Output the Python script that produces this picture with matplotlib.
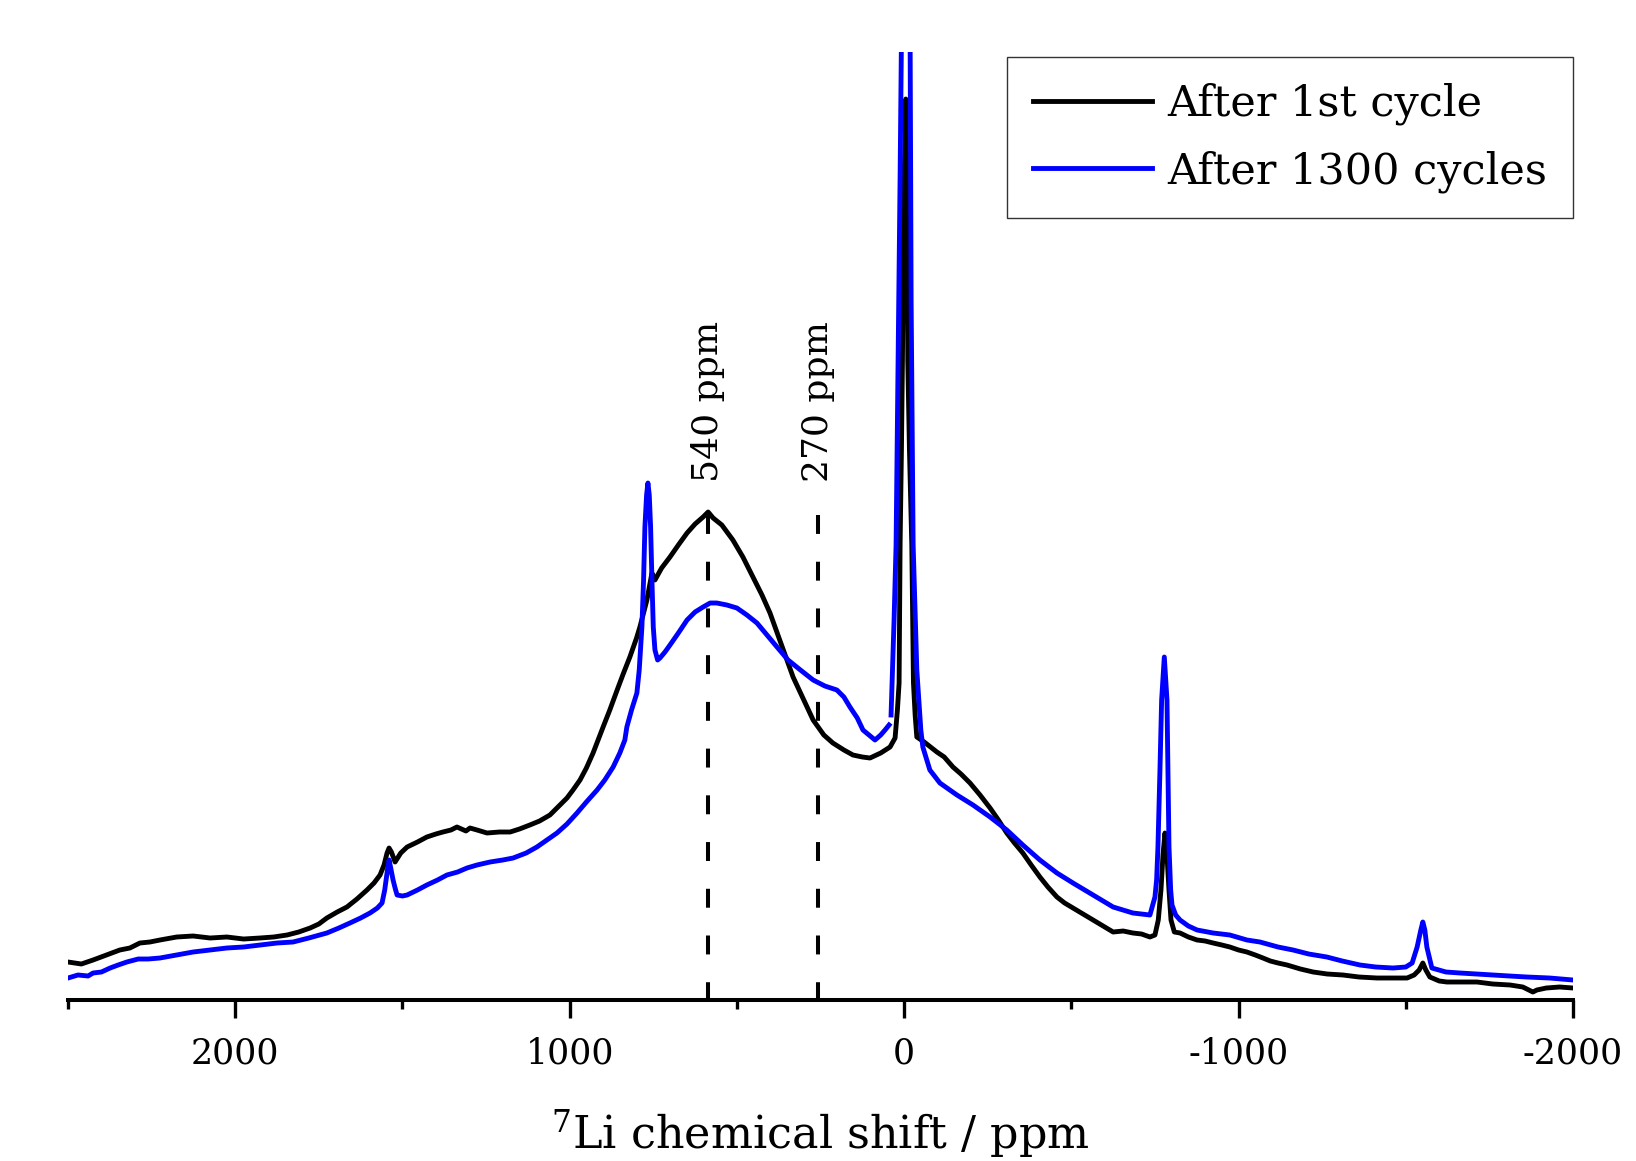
"""7Li MAS NMR spectra after 1st and 1300 cycles."""
import matplotlib
matplotlib.use("Agg")
import matplotlib.pyplot as plt
import numpy as np

# ppm / intensity (arbitrary units)
ppm_1st = [2500, 2460, 2425, 2385, 2345, 2315, 2285, 2255, 2225, 2175, 2126, 2075,
           2025, 1975, 1926, 1885, 1845, 1810, 1776, 1750, 1726, 1695, 1666, 1636,
           1606, 1585, 1567, 1555, 1546, 1540, 1533, 1522, 1505, 1486, 1455, 1427,
           1400, 1379, 1355, 1337, 1310, 1298, 1277, 1247, 1210, 1178, 1150, 1119,
           1090, 1059, 1035, 1008, 990, 969, 950, 930, 900, 880, 858, 840, 820,
           800, 790, 769, 754, 745, 725, 700, 675, 649, 625, 601, 586, 571, 545,
           512, 482, 452, 425, 401, 375, 350, 332, 300, 272, 240, 213, 180, 153,
           125, 102, 70, 42, 27, 20, 15, 12, 8, 5, 1, -5, -9, -11, -16, -23, -28,
           -33, -38, -60, -98, -120, -146, -170, -197, -227, -257, -282, -307,
           -330, -355, -380, -406, -430, -457, -480, -505, -535, -565, -595, -625,
           -655, -684, -710, -735, -750, -760, -768, -774, -780, -786, -792, -798,
           -808, -825, -850, -876, -900, -924, -950, -974, -1000, -1025, -1050,
           -1073, -1095, -1118, -1145, -1185, -1223, -1265, -1312, -1360, -1414,
           -1460, -1504, -1525, -1540, -1551, -1560, -1572, -1600, -1623, -1670,
           -1713, -1760, -1812, -1850, -1880, -1892, -1920, -1960, -2000]
int_1st = [38, 36, 40, 45, 50, 52, 57, 58, 60, 63, 64, 62,
           63, 61, 62, 63, 65, 68, 72, 76, 82, 88, 93, 101,
           110, 117, 125, 135, 147, 152, 148, 138, 147, 153, 158, 163,
           166, 168, 170, 173, 169, 172, 170, 167, 168, 168, 171, 175,
           179, 185, 193, 202, 210, 220, 232, 247, 273, 290, 310, 326, 343,
           362, 373, 400, 427, 420, 432, 443, 455, 467, 476, 483, 488, 482, 475,
           460, 443, 423, 405, 387, 363, 340, 323, 300, 280, 265, 257, 250, 245,
           243, 242, 247, 253, 262, 290, 317, 455, 550, 639, 800, 901, 800, 639, 550, 455, 317,
           285, 263, 258, 248, 243, 233, 226, 217, 205, 192, 180, 167,
           157, 147, 135, 123, 113, 103, 97, 92, 86, 80, 74, 68,
           69, 67, 66, 63, 65, 80, 110, 145, 167, 145, 110, 80,
           68, 67, 63, 60, 59, 57, 55, 53, 50, 48, 45,
           42, 39, 37, 35, 31, 28, 26, 25, 23, 22,
           22, 22, 25, 30, 37, 30, 23, 19, 18, 18,
           18, 16, 15, 13, 8, 10, 12, 13, 12]

ppm_1300 = [2500, 2470, 2440, 2425, 2400, 2374, 2350, 2324, 2290, 2260, 2225, 2175,
            2126, 2075, 2025, 1975, 1926, 1875, 1827, 1780, 1726, 1690, 1657, 1625,
            1597, 1575, 1561, 1553, 1549, 1544, 1540, 1535, 1528, 1522, 1516, 1500,
            1486, 1455, 1427, 1395, 1367, 1335, 1307, 1277, 1238, 1200, 1169, 1130,
            1098, 1068, 1038, 1008, 978, 950, 918, 895, 870, 850, 835, 829, 815,
            799, 792, 784, 779, 775, 770, 766, 762, 758, 754, 750, 745, 737, 730,
            715, 700, 675, 649, 625, 601, 580, 560, 530, 500, 470, 440, 410, 380,
            347, 310, 272, 237, 201, 180, 162, 140, 123, 105, 87, 70, 57, 45,
            np.nan,
            39, 30, 24, 18, 12, 8, -5, -18, -21, -27, -38, -50, -56, -77, -107,
            -158, -206, -257, -307, -355, -406, -457, -505, -565, -625, -684, -735,
            -750, -755, -759, -765, -770, -778, -786, -789, -792, -797, -801, -812,
            -825, -850, -876, -924, -974, -1025, -1064, -1118, -1163, -1210, -1264,
            -1310, -1363, -1410, -1462, -1500, -1519, -1534, -1545, -1551, -1557,
            -1563, -1578, -1620, -1662, -1710, -1761, -1810, -1862, -1930, -2000]
int_1300 = [22, 25, 24, 27, 28, 32, 35, 38, 41, 41, 42, 45,
            48, 50, 52, 53, 55, 57, 58, 62, 67, 72, 77, 82,
            87, 92, 97, 110, 120, 132, 140, 132, 120, 112, 105, 104,
            105, 110, 115, 120, 125, 128, 132, 135, 138, 140, 142, 147,
            153, 160, 167, 176, 187, 198, 210, 220, 233, 247, 260, 273, 290,
            307, 330, 373, 420, 473, 505, 517, 505, 473, 420, 373, 350, 340, 342,
            348, 355, 367, 380, 388, 393, 397, 397, 395, 392, 385, 377, 365, 353,
            340, 330, 320, 314, 310, 303, 293, 282, 270, 265, 260, 265, 270, 275,
            np.nan,
            285, 380, 455, 639, 822, 960, 1150, 960, 700, 455, 330, 270, 253, 230, 217,
            205, 195, 183, 170, 155, 140, 127, 117, 105, 93, 87, 85,
            103, 120, 153, 230, 300, 343, 300, 230, 153, 110, 95, 85,
            80, 74, 70, 67, 65, 60, 58, 53, 50, 46, 43,
            39, 35, 33, 32, 33, 37, 53, 70, 78, 70,
            53, 32, 28, 27, 26, 25, 24, 23, 22, 20]

marker_ppm = [586, 257]
marker_text = ["540 ppm", "270 ppm"]
labels = ["After 1st cycle", "After 1300 cycles"]

plt.rcParams["font.family"] = ["DejaVu Serif"]
plt.rcParams["mathtext.fontset"] = "dejavuserif"
plt.rcParams["axes.unicode_minus"] = False

fig = plt.figure(figsize=(16.36, 11.61), dpi=100)
ax = fig.add_axes([0.04156, 0.13867, 0.91993, 0.81654])

ax.plot(ppm_1st, int_1st, color="black", lw=3.5, label=labels[0])
ax.plot(ppm_1300, int_1300, color="#0000ff", lw=3.5, label=labels[1])

for x, txt in zip(marker_ppm, marker_text):
    ax.plot([x, x], [485, 0], color="black", lw=2.9, dashes=(4.7, 6.9))
    ax.text(x, 518, txt, rotation=90, ha="center", va="bottom", fontsize=26)

ax.set_xlim(2500, -2000)
ax.set_ylim(0, 948)
ax.set_xticks([2000, 1000, 0, -1000, -2000])
ax.set_xticks([2500, 1500, 500, -500, -1500], minor=True)
ax.tick_params(axis="x", which="major", direction="out", length=13, width=2.4, labelsize=25, pad=13)
ax.tick_params(axis="x", which="minor", direction="out", length=6.5, width=2.4)
ax.set_yticks([])
for side in ("left", "right", "top"):
    ax.spines[side].set_visible(False)
ax.spines["bottom"].set_linewidth(2.9)
ax.set_xlabel("$^{7}$Li chemical shift / ppm", fontsize=32, labelpad=27)

leg = ax.legend(loc="upper right", bbox_to_anchor=(1.0, 0.995), fontsize=31,
                frameon=True, fancybox=False, edgecolor="black", borderaxespad=0,
                handlelength=2.76, handletextpad=0.35, borderpad=0.6, labelspacing=0.58)
leg.get_frame().set_linewidth(1.0)
for line in leg.get_lines():
    line.set_linewidth(3.5)

fig.savefig("out.png", dpi=100)
